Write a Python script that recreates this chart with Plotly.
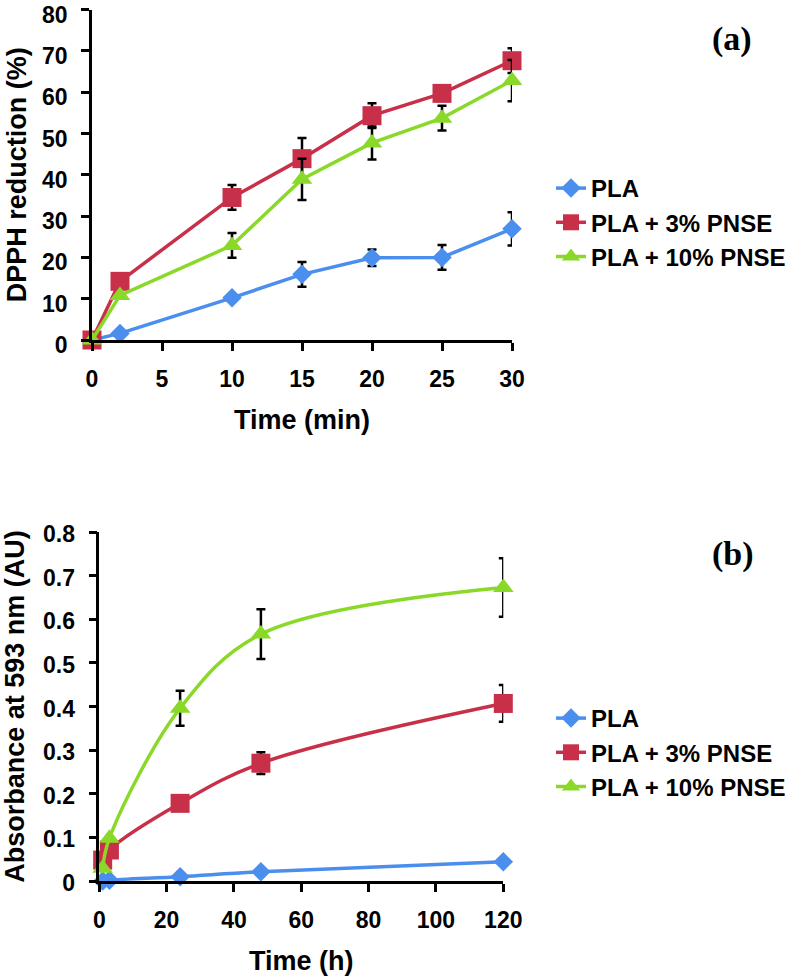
import plotly.graph_objects as go

# ---- Data: panel (a) DPPH reduction ----
time_a = [0, 2, 10, 15, 20, 25, 30]
pla_a = [0, 1.6, 10.2, 15.9, 19.9, 20.0, 26.9]
pla_a_err = [0, 0, 0, 3, 2, 3, 4]
pla3_a = [0, 14.2, 34.5, 43.9, 54.3, 59.7, 67.6]
pla3_a_err = [0, 0, 3, 5, 3, 0, 3]
pla10_a = [0, 10.8, 22.9, 38.9, 47.7, 53.7, 62.8]
pla10_a_err = [0, 0, 3, 5, 4, 3, 5]

# ---- Data: panel (b) FRAP absorbance ----
time_b = [1, 3, 24, 48, 120]
pla_b = [0.0, 0.002, 0.010, 0.021, 0.044]
pla_b_err = [0, 0, 0, 0, 0]
pla3_b = [0.048, 0.071, 0.178, 0.270, 0.407]
pla3_b_err = [0, 0, 0, 0.025, 0.042]
pla10_b = [0.029, 0.098, 0.396, 0.566, 0.673]
pla10_b_err = [0, 0, 0.04, 0.057, 0.067]

series_names = ["PLA", "PLA + 3% PNSE", "PLA + 10% PNSE"]
colors = ["#4A8EEE", "#C8304A", "#8AD928"]
symbols = ["diamond", "square", "triangle-up"]
sizes = [15, 19, 18]

FONT = "Liberation Sans"
fig = go.Figure()

data_a = [(pla_a, pla_a_err), (pla3_a, pla3_a_err), (pla10_a, pla10_a_err)]
data_b = [(pla_b, pla_b_err), (pla3_b, pla3_b_err), (pla10_b, pla10_b_err)]

for i, (y, e) in enumerate(data_a):
    fig.add_trace(go.Scatter(
        x=time_a, y=y, name="<b>" + series_names[i] + "</b>", mode="lines+markers",
        line=dict(color=colors[i], width=3.5),
        marker=dict(symbol=symbols[i], size=sizes[i], color=colors[i]),
        error_y=dict(type="data", array=e, visible=True, color="black", thickness=2.5, width=4.5),
        cliponaxis=False, xaxis="x", yaxis="y", legend="legend", legendgroup="a%d" % i))

for i, (y, e) in enumerate(data_b):
    fig.add_trace(go.Scatter(
        x=time_b, y=y, name="<b>" + series_names[i] + "</b>", mode="lines+markers",
        line=dict(color=colors[i], width=3.5, shape="spline", smoothing=1.0),
        marker=dict(symbol=symbols[i], size=sizes[i], color=colors[i]),
        error_y=dict(type="data", array=e, visible=True, color="black", thickness=2.5, width=4.5),
        cliponaxis=False, xaxis="x2", yaxis="y2", legend="legend2", legendgroup="b%d" % i))

W, H = 791, 978
def px_x(p):
    return p / W
def px_y(p):
    return (H - p) / H

axis_common = dict(showline=True, linecolor="black", linewidth=2.5, ticks="outside",
                   ticklen=8, tickwidth=2.5, tickcolor="black", showgrid=False,
                   zeroline=False, automargin=False, ticklabeloverflow="allow",
                   tickfont=dict(family=FONT, size=23, color="black", weight="bold"),
                   title_font=dict(family=FONT, size=27, color="black"))

legend_common = dict(xanchor="left", yanchor="top", tracegroupgap=0,
                     font=dict(family=FONT, size=24, color="black"), bgcolor="rgba(0,0,0,0)")

fig.update_layout(
    width=W, height=H, margin=dict(l=0, r=0, t=0, b=0, autoexpand=False),
    paper_bgcolor="white", plot_bgcolor="white",
    font=dict(family=FONT, color="black"),
    xaxis=dict(domain=[px_x(92), px_x(512)], range=[0, 30], tickvals=[0, 5, 10, 15, 20, 25, 30],
               anchor="y", ticklabelstandoff=9,
               title=dict(text="<b>Time (min)</b>", standoff=19), **axis_common),
    yaxis=dict(domain=[px_y(340), px_y(9.5)], range=[0, 80], dtick=10, anchor="x",
               ticklabelstandoff=9, ticklabelshift=5,
               title=dict(text="<b>DPPH reduction (%)</b>", standoff=8), **axis_common),
    xaxis2=dict(domain=[px_x(99.3), px_x(503.3)], range=[0, 120], dtick=20, anchor="y2",
                ticklabelstandoff=9,
                title=dict(text="<b>Time (h)</b>", standoff=19), **axis_common),
    yaxis2=dict(domain=[px_y(881), px_y(532)], range=[0, 0.8], dtick=0.1, anchor="x2",
                ticklabelstandoff=9, ticklabelshift=2,
                title=dict(text="<b>Absorbance at 593 nm (AU)</b>", standoff=23), **axis_common),
    legend=dict(x=px_x(551), y=px_y(166), groupclick="toggleitem", **legend_common),
    legend2=dict(x=px_x(551), y=px_y(696), groupclick="toggleitem", **legend_common),
    annotations=[
        dict(text="<b>(a)</b>", x=px_x(732), y=px_y(39), xref="paper", yref="paper",
             xanchor="center", yanchor="middle", showarrow=False,
             font=dict(family="Liberation Serif", size=34, color="black")),
        dict(text="<b>(b)</b>", x=px_x(733), y=px_y(554), xref="paper", yref="paper",
             xanchor="center", yanchor="middle", showarrow=False,
             font=dict(family="Liberation Serif", size=34, color="black")),
    ],
)

fig.write_html("out.html", config={"displayModeBar": False},
               post_script="document.body.style.margin='0';")
